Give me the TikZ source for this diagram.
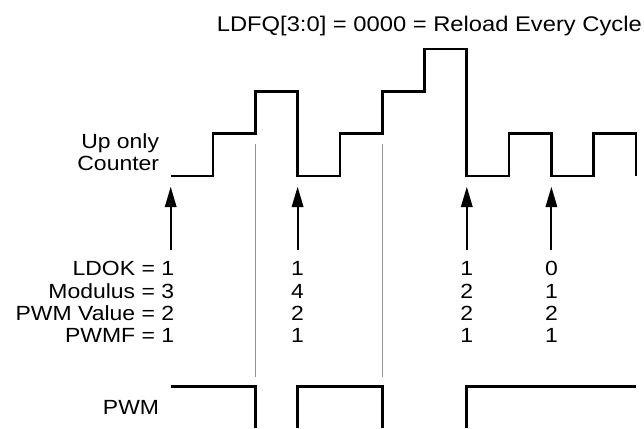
\documentclass[tikz,border=0pt]{standalone}
\usepackage{fontspec}
\setmainfont{Liberation Sans}[FakeStretch=1.12]
\usetikzlibrary{arrows.meta}
\begin{document}
\begin{tikzpicture}[x=1pt,y=-1pt,
  lab/.style={inner sep=0pt, font=\fontsize{20.5}{22}\selectfont},
  lbl/.style={lab, anchor=base east},
  val/.style={lab, anchor=base},
  wave/.style={line width=2.7pt, line join=miter},
  guide/.style={line width=1.3pt, draw=black!42},
  arr/.style={line width=2pt, -{Triangle[length=20.5pt,width=11.5pt]}}]
\useasboundingbox (0,0) rectangle (644,428);
% title
\node[lbl, font=\fontsize{21.2}{23}\selectfont] (title) at (642,31.7) {LDFQ[3:0] = 0000 = Reload Every Cycle};
% counter label
\node[lbl] (up) at (159.3,148.3) {Up only};
\node[lbl] (ctr) at (159.3,170) {Counter};
% counter waveform
\draw[wave] (170.7,176) -- (213.0,176) -- (213.0,133.7) -- (255.3,133.7)
  -- (255.3,91.4) -- (297.6,91.4) -- (297.6,176) -- (339.9,176)
  -- (339.9,133.7) -- (382.2,133.7) -- (382.2,91.4) -- (424.5,91.4)
  -- (424.5,49.1) -- (466.8,49.1) -- (466.8,176) -- (509.1,176)
  -- (509.1,133.7) -- (551.4,133.7) -- (551.4,176) -- (593.7,176)
  -- (593.7,133.7) -- (636.0,133.7) -- (636.0,176);
% grey guides
\draw[guide] (255.3,144.3) -- (255.3,376.7);
\draw[guide] (382.2,144.3) -- (382.2,376.7);
% arrows
\foreach \n/\x in {a0/170.7,a1/297.6,a2/466.8,a3/551.4}{
  \coordinate (\n b) at (\x,250);
  \coordinate (\n t) at (\x,186.7);
  \draw[arr] (\n b) -- (\n t);
}
% row labels
\node[lbl] (r1) at (174.3,275.7) {LDOK = 1};
\node[lbl] (r2) at (174.3,298.3) {Modulus = 3};
\node[lbl] (r3) at (174.3,320.2) {PWM Value = 2};
\node[lbl] (r4) at (174.3,342.3) {PWMF = 1};
% value columns
\foreach \c/\x/\va/\vb/\vc/\vd in {b/297.6/1/4/2/1, c/466.8/1/2/2/1, d/551.4/0/1/2/1}{
  \node[val] (\c1) at (\x,275.7) {\va};
  \node[val] (\c2) at (\x,298.3) {\vb};
  \node[val] (\c3) at (\x,320.2) {\vc};
  \node[val] (\c4) at (\x,342.3) {\vd};
}
% PWM
\node[lbl] (pwm) at (159.3,414) {PWM};
\draw[wave] (170.7,386.7) -- (255.3,386.7) -- (255.3,428);
\draw[wave] (297.6,428) -- (297.6,386.7) -- (382.2,386.7) -- (382.2,428);
\draw[wave] (466.8,428) -- (466.8,386.7) -- (636.0,386.7);
\end{tikzpicture}
\end{document}
